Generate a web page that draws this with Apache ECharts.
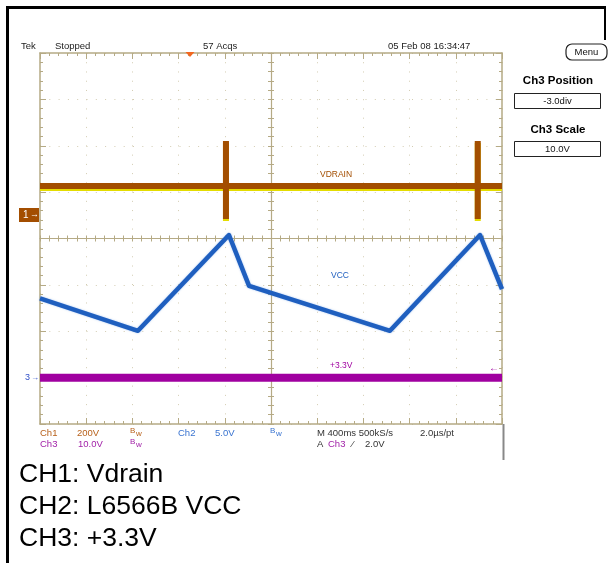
<!DOCTYPE html>
<html>
<head>
<meta charset="utf-8">
<script src="https://cdn.jsdelivr.net/npm/echarts@6/dist/echarts.min.js"></script>
<style>
html,body{margin:0;padding:0;background:#fff;}
#c{width:614px;height:563px;}
</style>
</head>
<body>
<div id="c"></div>
<script>
// Time in seconds (400 ms/div, 10 div), trace values in screen divisions (-4..4)
const ch1Time = [-2.0, -0.39, -0.39, -0.39, -0.39, 1.79, 1.79, 1.79, 1.79, 2.0];
const ch1Div  = [1.13, 1.13, 2.10, 0.42, 1.13, 1.13, 2.10, 0.42, 1.13, 1.13];
const ch2Time = [-2.0, -1.152, -0.364, -0.190, 1.030, 1.810, 2.0];
const ch2Div  = [-1.29, -1.99, 0.075, -1.02, -1.99, 0.075, -1.09];
const ch3Time = [-2.0, 2.0];
const ch3Div  = [-3.0, -3.0];

const traceNames = ['VDRAIN', 'VCC', '+3.3V'];
const captions = ['CH1: Vdrain', 'CH2: L6566B VCC', 'CH3: +3.3V'];

const TAN = '#b5aa85';
const DOT = '#d3ccb2';
const BROWN = '#a34e00';
const BLUE = '#1f5fbf';
const MAG = '#a000a0';
const F = '"Liberation Sans", Arial, sans-serif';

const pairs = (t, v) => t.map((x, i) => [x, v[i]]);

function xAx(extra) {
  return Object.assign({
    type: 'value', min: -2.0, max: 2.0, interval: 0.4,
    axisLabel: { show: false },
    axisLine: { show: true, onZero: false, lineStyle: { color: TAN, width: 1.5 } },
    axisTick: { show: true, inside: true, length: 6, lineStyle: { color: TAN } },
    minorTick: { show: true, splitNumber: 5, length: 3, lineStyle: { color: TAN } },
    splitLine: { show: false }
  }, extra);
}
function yAx(extra) {
  return Object.assign({
    type: 'value', min: -4, max: 4, interval: 1,
    axisLabel: { show: false },
    axisLine: { show: true, onZero: false, lineStyle: { color: TAN, width: 1.5 } },
    axisTick: { show: true, inside: true, length: 6, lineStyle: { color: TAN } },
    minorTick: { show: true, splitNumber: 5, length: 3, lineStyle: { color: TAN } },
    splitLine: { show: false }
  }, extra);
}

const centerTick = { show: true, length: 3, lineStyle: { color: TAN } };

const option = {
  animation: false,
  grid: { left: 40, top: 53, width: 462, height: 371 },
  xAxis: [
    xAx({ position: 'bottom', splitLine: { show: true, lineStyle: { color: DOT, type: [1, 8.24], width: 1 } } }),
    xAx({ position: 'top' }),
    xAx({ position: 'bottom', axisLine: { show: true, onZero: true, onZeroAxisIndex: 0, lineStyle: { color: TAN, width: 1.2 } },
          axisTick: Object.assign({ inside: true }, centerTick), minorTick: Object.assign({ splitNumber: 5 }, centerTick) }),
    xAx({ position: 'bottom', axisLine: { show: false, onZero: true, onZeroAxisIndex: 0 },
          axisTick: Object.assign({ inside: false }, centerTick), minorTick: Object.assign({ splitNumber: 5 }, centerTick) })
  ],
  yAxis: [
    yAx({ position: 'left', splitLine: { show: true, lineStyle: { color: DOT, type: [1, 8.3], width: 1 } } }),
    yAx({ position: 'right' }),
    yAx({ position: 'left', axisLine: { show: true, onZero: true, onZeroAxisIndex: 0, lineStyle: { color: TAN, width: 1.2 } },
          axisTick: Object.assign({ inside: true }, centerTick), minorTick: Object.assign({ splitNumber: 5 }, centerTick) }),
    yAx({ position: 'left', axisLine: { show: false, onZero: true, onZeroAxisIndex: 0 },
          axisTick: Object.assign({ inside: false }, centerTick), minorTick: Object.assign({ splitNumber: 5 }, centerTick) })
  ],
  series: [
    { type: 'line', name: 'CH3', data: pairs(ch3Time, ch3Div), symbol: 'none', z: 3,
      lineStyle: { color: MAG, width: 8 } },
    { type: 'line', name: 'CH2', data: pairs(ch2Time, ch2Div), symbol: 'none', z: 4,
      lineStyle: { color: BLUE, width: 4.5, join: 'round', shadowColor: 'rgba(80,140,230,0.5)', shadowBlur: 2 } },
    { type: 'line', name: 'CH1', data: pairs(ch1Time, ch1Div), symbol: 'none', z: 5,
      lineStyle: { color: BROWN, width: 6, shadowColor: '#e4dc00', shadowOffsetY: 2, shadowBlur: 0 } }
  ],
  graphic: []
};

const g = option.graphic;
function txt(x, y, text, fill, size, extra) {
  g.push({ type: 'text', x: x, y: y, z: 100, style: Object.assign({
    text: text, fill: fill, font: size + 'px ' + F, textAlign: 'left', textVerticalAlign: 'middle' }, extra || {}) });
}
function line(x1, y1, x2, y2, stroke, w) {
  g.push({ type: 'line', z: 100, shape: { x1: x1, y1: y1, x2: x2, y2: y2 }, style: { stroke: stroke, lineWidth: w } });
}

// outer document frame
line(7.5, 7, 7.5, 563, '#000', 3);
line(6, 7.5, 606, 7.5, '#000', 3);
line(605, 6, 605, 40, '#000', 2);
// screenshot right edge below the graticule
line(503.5, 424, 503.5, 460, '#888', 2);

// header
txt(21, 46, 'Tek', '#222', 9.5);
txt(55, 46, 'Stopped', '#222', 9.5);
txt(203, 46, '57 Acqs', '#222', 9.5);
txt(388, 46, '05 Feb 08 16:34:47', '#222', 9.5);
g.push({ type: 'polygon', z: 101, shape: { points: [[185.5, 52], [194.5, 52], [190, 57]] }, style: { fill: '#f2671f' } });

// right menu panel
g.push({ type: 'rect', z: 100, shape: { x: 566, y: 44, width: 41, height: 16, r: 6 }, style: { fill: '#fff', stroke: '#222', lineWidth: 1.2 } });
txt(586.5, 52.5, 'Menu', '#111', 9.5, { textAlign: 'center' });
txt(558, 81, 'Ch3 Position', '#000', 11.5, { textAlign: 'center', font: 'bold 11.5px ' + F });
g.push({ type: 'rect', z: 100, shape: { x: 514.5, y: 93.5, width: 86, height: 15 }, style: { fill: '#fff', stroke: '#222', lineWidth: 1 } });
txt(557.5, 101, '-3.0div', '#111', 9.5, { textAlign: 'center' });
txt(558, 130, 'Ch3 Scale', '#000', 11.5, { textAlign: 'center', font: 'bold 11.5px ' + F });
g.push({ type: 'rect', z: 100, shape: { x: 514.5, y: 141.5, width: 86, height: 15 }, style: { fill: '#fff', stroke: '#222', lineWidth: 1 } });
txt(557.5, 149, '10.0V', '#111', 9.5, { textAlign: 'center' });

// channel markers
g.push({ type: 'rect', z: 100, shape: { x: 19, y: 208, width: 20, height: 14 }, style: { fill: BROWN } });
txt(23, 215, '1', '#fff', 10);
txt(30, 215, '→', '#fff', 9);
txt(25, 378, '3', '#3050c8', 9);
txt(31, 377.5, '→', '#3050c8', 8);
txt(489, 368, '←', MAG, 10);

// trace labels
txt(320, 175, traceNames[0], BROWN, 8.5);
txt(331, 276, traceNames[1], BLUE, 8.5);
txt(330, 366, traceNames[2], MAG, 8.5);

// bottom readout
const C1 = '#b8621c', C2 = '#3a74d0', C3 = '#a222a8';
txt(40, 433, 'Ch1', C1, 9.5);
txt(77, 433, '200V', C1, 9.5);
txt(130, 431, 'B', C1, 8); txt(136, 434, 'w', C1, 8);
txt(178, 433, 'Ch2', C2, 9.5);
txt(215, 433, '5.0V', C2, 9.5);
txt(270, 431, 'B', C2, 8); txt(276, 434, 'w', C2, 8);
txt(317, 433, 'M 400ms 500kS/s', '#333', 9.5);
txt(420, 433, '2.0µs/pt', '#333', 9.5);
txt(40, 444, 'Ch3', C3, 9.5);
txt(78, 444, '10.0V', C3, 9.5);
txt(130, 442, 'B', C3, 8); txt(136, 445, 'w', C3, 8);
txt(317, 444, 'A', '#333', 9.5);
txt(328, 444, 'Ch3', C3, 9.5);
txt(352, 444, '⁄', '#333', 9.5);
txt(365, 444, '2.0V', '#333', 9.5);

// captions
captions.forEach((c, i) => txt(19, 475 + i * 32, c, '#000', 26.5));

echarts.init(document.getElementById('c')).setOption(option);
</script>
</body>
</html>
